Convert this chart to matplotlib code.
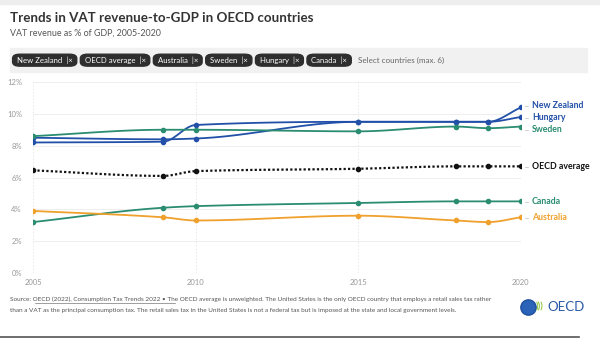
import numpy as np
import matplotlib
matplotlib.use("Agg")
import matplotlib.pyplot as plt
from matplotlib.patches import FancyBboxPatch, Rectangle

plt.rcParams['font.family'] = ['Lato', 'DejaVu Sans']

years = [2005, 2009, 2010, 2015, 2018, 2019, 2020]
new_zealand = [8.5, 8.4, 8.45, 9.5, 9.5, 9.5, 10.4]
hungary = [8.2, 8.25, 9.3, 9.5, 9.5, 9.5, 9.8]
sweden = [8.6, 9.0, 9.0, 8.9, 9.2, 9.1, 9.2]
oecd_average = [6.45, 6.1, 6.4, 6.55, 6.7, 6.7, 6.7]
canada = [3.2, 4.1, 4.2, 4.4, 4.5, 4.5, 4.5]
australia = [3.9, 3.5, 3.3, 3.6, 3.3, 3.2, 3.5]

chips = ["New Zealand", "OECD average", "Australia", "Sweden", "Hungary", "Canada"]
y_ticks = [0, 2, 4, 6, 8, 10, 12]
x_ticks = [2005, 2010, 2015, 2020]

BLUE = "#2250a8"
GREEN = "#2a8c70"
ORANGE = "#f0a02c"
BLACK = "#111111"

series = [
    ("New Zealand", new_zealand, BLUE, "-", 10.5),
    ("Hungary", hungary, BLUE, "-", 9.75),
    ("Sweden", sweden, GREEN, "-", 9.0),
    ("OECD average", oecd_average, BLACK, ":", 6.67),
    ("Canada", canada, GREEN, "-", 4.47),
    ("Australia", australia, ORANGE, "-", 3.46),
]


def monotone_curve(x, y, n=20):
    # Fritsch-Carlson monotone cubic, only used to draw smooth segments
    x = np.asarray(x, float)
    y = np.asarray(y, float)
    h = np.diff(x)
    d = np.diff(y) / h
    m = np.zeros_like(y)
    m[0], m[-1] = d[0], d[-1]
    for i in range(1, len(y) - 1):
        if d[i - 1] * d[i] <= 0:
            m[i] = 0
        else:
            w1 = 2 * h[i] + h[i - 1]
            w2 = h[i] + 2 * h[i - 1]
            m[i] = (w1 + w2) / (w1 / d[i - 1] + w2 / d[i])
    xs, ys = [], []
    for i in range(len(h)):
        t = np.linspace(0, 1, n)
        h00 = 2 * t**3 - 3 * t**2 + 1
        h10 = t**3 - 2 * t**2 + t
        h01 = -2 * t**3 + 3 * t**2
        h11 = t**3 - t**2
        xs.append(x[i] + t * h[i])
        ys.append(h00 * y[i] + h10 * h[i] * m[i] + h01 * y[i + 1] + h11 * h[i] * m[i + 1])
    return np.concatenate(xs), np.concatenate(ys)


fig = plt.figure(figsize=(6.0, 3.41), dpi=100)

# header
fig.patches.append(Rectangle((0, 0.988), 1, 0.012, transform=fig.transFigure,
                             color="#eeeeee", zorder=0))
fig.text(0.017, 0.948, "Trends in VAT revenue-to-GDP in OECD countries",
         fontsize=9.6, fontweight="bold", color="#333333", va="center")
fig.text(0.017, 0.902, "VAT revenue as % of GDP, 2005-2020",
         fontsize=6.4, color="#555555", va="center")

# country selector bar
fig.patches.append(Rectangle((0.017, 0.788), 0.962, 0.07, transform=fig.transFigure,
                             color="#f1f1f1", zorder=0))
cx = 0.021
for name in chips:
    t = fig.text(cx + 0.007, 0.823, name + "  |\u00d7", fontsize=5.6, color="white",
                 va="center", zorder=3)
    fig.canvas.draw()
    bb = t.get_window_extent().transformed(fig.transFigure.inverted())
    w = bb.width + 0.014
    fig.patches.append(FancyBboxPatch((cx, 0.806), w, 0.035,
                                      boxstyle="round,pad=0,rounding_size=0.012",
                                      transform=fig.transFigure, color="#2e2e2e", zorder=2))
    cx += w + 0.006
fig.text(cx + 0.006, 0.823, "Select countries (max. 6)", fontsize=5.8, color="#666666",
         va="center")

# chart
ax = fig.add_axes([0.055, 0.1994, 0.813, 0.5601])
ax.set_xlim(2005, 2020)
ax.set_ylim(0, 12)
for s in ax.spines.values():
    s.set_visible(False)
for v in y_ticks:
    ax.axhline(v, color="#ebebeb", lw=0.6, zorder=0)
for v in x_ticks:
    ax.axvline(v, color="#e6e6e6", lw=0.6, ls=(0, (2, 2)), zorder=0)
ax.set_yticks(y_ticks)
ax.set_yticklabels([f"{v}%" for v in y_ticks])
ax.set_xticks(x_ticks)
ax.tick_params(length=0, labelsize=5.5, labelcolor="#999999", pad=4)
ax.tick_params(axis="y", pad=8)

for name, vals, color, ls, label_y in series:
    xs, ys = monotone_curve(years, vals)
    if ls == ":":
        ax.plot(xs, ys, color=color, lw=1.6, ls=(0, (1, 1)), zorder=3)
    else:
        ax.plot(xs, ys, color=color, lw=1.3, zorder=3)
    ax.plot(years, vals, "o", color=color, ms=3, zorder=4, lw=0)
    ax.annotate(name, xy=(years[-1], label_y), xytext=(8, 0), textcoords="offset points",
                fontsize=6.3, fontweight="bold", color=color, va="center",
                annotation_clip=False)
    ax.plot([years[-1] + 0.12, years[-1] + 0.22], [label_y, label_y], color="#bbbbbb",
            lw=0.5, clip_on=False)

# footer
fig.text(0.017, 0.123,
         "Source: OECD (2022), Consumption Tax Trends 2022 \u2022 The OECD average is unweighted. "
         "The United States is the only OECD country that employs a retail sales tax rather",
         fontsize=4.6, color="#555555", va="center")
fig.text(0.017, 0.088,
         "than a VAT as the principal consumption tax. The retail sales tax in the United States "
         "is not a federal tax but is imposed at the state and local government levels.",
         fontsize=4.6, color="#555555", va="center")
fig.lines.append(plt.Line2D([0.0575, 0.292], [0.112, 0.112], transform=fig.transFigure,
                            color="#555555", lw=0.4))

# logo
fig.lines.append(plt.Line2D([0.880], [0.100], transform=fig.transFigure, marker="o",
                            ms=11, color="#2a63b8", mec="#1d4f9c", lw=0))
fig.text(0.893, 0.100, ")))", fontsize=7, color="#8cc63f", va="center",
         fontweight="bold")
fig.text(0.912, 0.100, "OECD", fontsize=9.5, color="#2a5aa6", va="center")

fig.lines.append(plt.Line2D([0.0, 0.965], [0.012, 0.012], transform=fig.transFigure,
                            color="#555555", lw=1.2))

fig.savefig("out.png", dpi=100)
